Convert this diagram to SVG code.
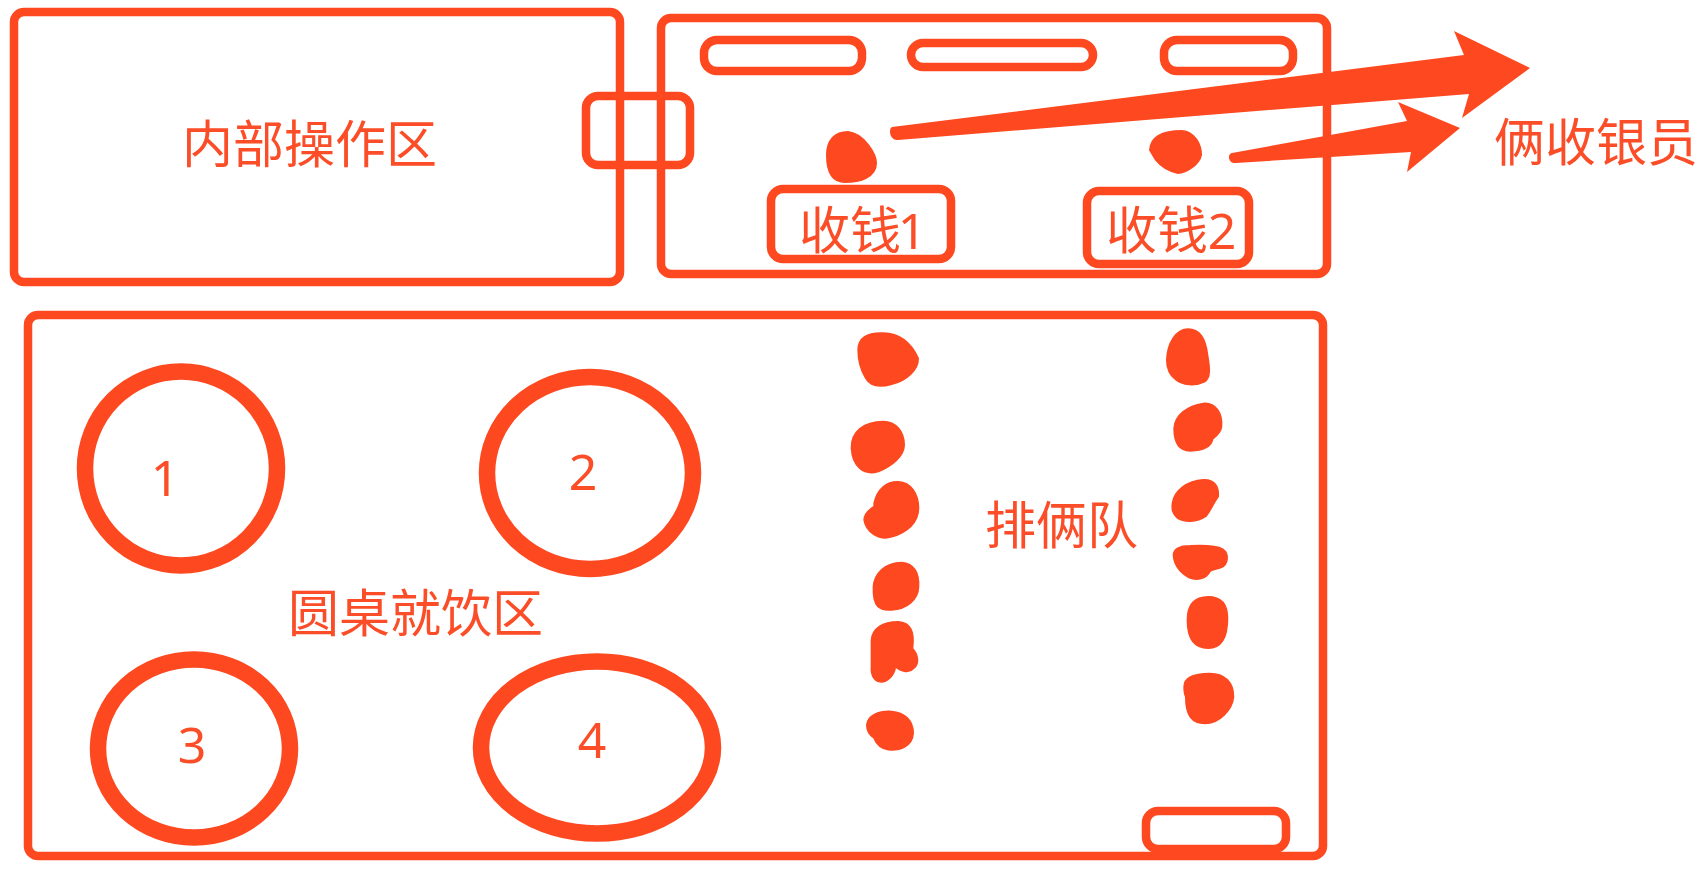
<svg xmlns="http://www.w3.org/2000/svg" width="1704" height="870" viewBox="0 0 1704 870">
<style>
.b{fill:none;stroke:#fd4820;stroke-width:8.500}
.c{fill:none;stroke:#fd4820;stroke-width:16.500}
.s{fill:#fd4820;stroke:none}
.h{fill:#fd4820;stroke:#fd4820;stroke-width:2;stroke-linejoin:round}
.q{fill:#fd4820;stroke:#fd4820;stroke-width:6;stroke-linejoin:round}
.t{fill:#fb4e28;font-family:"Noto Sans CJK SC","Noto Sans",sans-serif;font-size:51px;font-weight:400}
.n{fill:#fb4e28;font-family:"Noto Sans","Liberation Sans",sans-serif;font-size:50px;font-weight:400;text-anchor:middle}
</style>
<rect width="1704" height="870" fill="#fff"/>
<g id="inner-area"><rect class="b" x="14" y="12" width="606" height="270" rx="10"/><text class="t" x="182" y="163">内部操作区</text></g>
<g id="front-counter"><rect class="b" x="661" y="18" width="666" height="256" rx="10"/></g>
<g id="pass-window"><rect class="b" x="586" y="96" width="104" height="69" rx="12"/></g>
<g id="shelf-1"><rect class="b" x="704" y="40" width="158" height="31" rx="13"/></g>
<g id="shelf-2"><rect class="b" x="911" y="43" width="182" height="24" rx="12"/></g>
<g id="shelf-3"><rect class="b" x="1164" y="40" width="129" height="31" rx="13"/></g>
<g id="till-1"><rect class="b" x="771" y="189" width="180" height="70" rx="12"/><text class="t" x="799" y="249">收钱</text><text class="n" x="912" y="249">1</text></g>
<g id="till-2"><rect class="b" x="1087" y="191" width="162" height="73" rx="12"/><text class="t" x="1106" y="249">收钱</text><text class="n" x="1222" y="249">2</text></g>
<g id="cashier-1"><path class="h" d="M827 155C827 140 835 132 848 132C865 134 876 155 876 163C876 177 860 182 845 182C831 182 827 170 827 155Z"/></g>
<g id="cashier-2"><path class="h" d="M1150 150C1151 136 1165 131 1182 131C1195 132 1201 145 1201 155C1199 165 1185 173 1178 173C1168 171 1160 165 1156 160Z"/></g>
<g id="cashiers-label"><text class="t" x="1494" y="161">俩收银员</text></g>
<g id="connectors">
<path class="s" d="M892 127L1464 55L1454 31L1530 68L1462 118L1469 94L898 140C890 141 888 129 892 127Z"/>
<path class="s" d="M1232 153L1407 121L1398 102L1460 128L1407 172L1411 152L1236 163C1228 164 1227 154 1232 153Z"/>
</g>
<g id="seating-area"><rect class="b" x="28" y="315" width="1295" height="541" rx="10"/><text class="t" x="288" y="632">圆桌就饮区</text></g>
<g id="table-1"><ellipse class="c" cx="181" cy="468.500" rx="96" ry="97"/><text class="n" x="165" y="496">1</text></g>
<g id="table-2"><ellipse class="c" cx="590" cy="473" rx="103" ry="96"/><text class="n" x="583" y="490">2</text></g>
<g id="table-3"><ellipse class="c" cx="194" cy="748.500" rx="96" ry="89"/><text class="n" x="192" y="763">3</text></g>
<g id="table-4"><ellipse class="c" cx="597" cy="747.500" rx="116" ry="86"/><text class="n" x="592" y="758">4</text></g>
<g id="queue-label"><text class="t" x="985" y="544">排俩队</text></g>
<g id="exit-mat"><rect class="b" x="1146" y="811" width="140" height="38" rx="12"/></g>
<g id="queue-left" transform="translate(820 310) scale(.3333)">
<path class="q" d="M115 120C115 85 140 68 190 70C235 71 272 97 294 145C295 178 260 212 215 222C180 232 152 229 138 205C123 180 115 150 115 120Z"/>
<path class="q" d="M95 415C93 367 130 335 190 335C228 335 252 366 252 405C252 438 215 468 175 484C132 497 98 470 95 415Z"/>
<path class="q" d="M163 580C172 537 200 515 235 516C273 518 295 552 295 595C295 638 260 667 215 680C176 692 138 665 133 630C133 612 147 600 163 590Z"/>
<path class="q" d="M161 830C163 792 195 758 245 758C283 760 297 792 295 830C294 868 260 897 215 899C181 902 158 893 161 830Z"/>
<path class="q" d="M155 990C158 957 186 936 235 936C268 938 284 960 277 1016C292 1031 299 1060 282 1073C265 1092 240 1082 226 1068C223 1098 200 1117 180 1115C162 1112 153 1094 155 1070Z"/>
<path class="q" d="M141 1245C143 1218 175 1203 215 1205C253 1208 279 1232 279 1270C277 1308 240 1322 205 1319C182 1315 168 1298 162 1283C148 1274 141 1260 141 1245Z"/>
</g>
<g id="queue-right" transform="translate(820 310) scale(.3333)">
<path class="q" d="M1041 150C1043 102 1067 58 1105 58C1143 58 1157 92 1162 135C1169 175 1172 203 1153 215C1125 229 1087 225 1067 208C1048 193 1041 175 1041 150Z"/>
<path class="q" d="M1063 355C1065 317 1102 288 1150 281C1188 278 1207 311 1204 350C1202 368 1188 378 1178 386C1173 412 1150 422 1110 422C1077 422 1063 398 1063 355Z"/>
<path class="q" d="M1058 580C1063 542 1102 513 1150 510C1183 508 1197 531 1194 560C1182 575 1172 600 1158 618C1130 637 1092 637 1072 623C1058 609 1056 600 1058 580Z"/>
<path class="q" d="M1061 735C1063 713 1086 708 1110 708C1150 706 1188 706 1208 718C1227 731 1225 763 1203 772C1188 777 1178 777 1170 783C1158 807 1130 812 1107 802C1082 788 1063 765 1061 735Z"/>
<path class="q" d="M1103 930C1103 882 1127 861 1165 861C1203 861 1222 882 1222 925C1222 983 1203 1014 1165 1014C1122 1014 1103 983 1103 930Z"/>
<path class="q" d="M1093 1130C1093 1103 1122 1091 1170 1091C1213 1091 1240 1117 1240 1160C1237 1198 1198 1240 1155 1240C1117 1240 1098 1218 1098 1160C1093 1150 1093 1140 1093 1130Z"/>
</g>
</svg>
